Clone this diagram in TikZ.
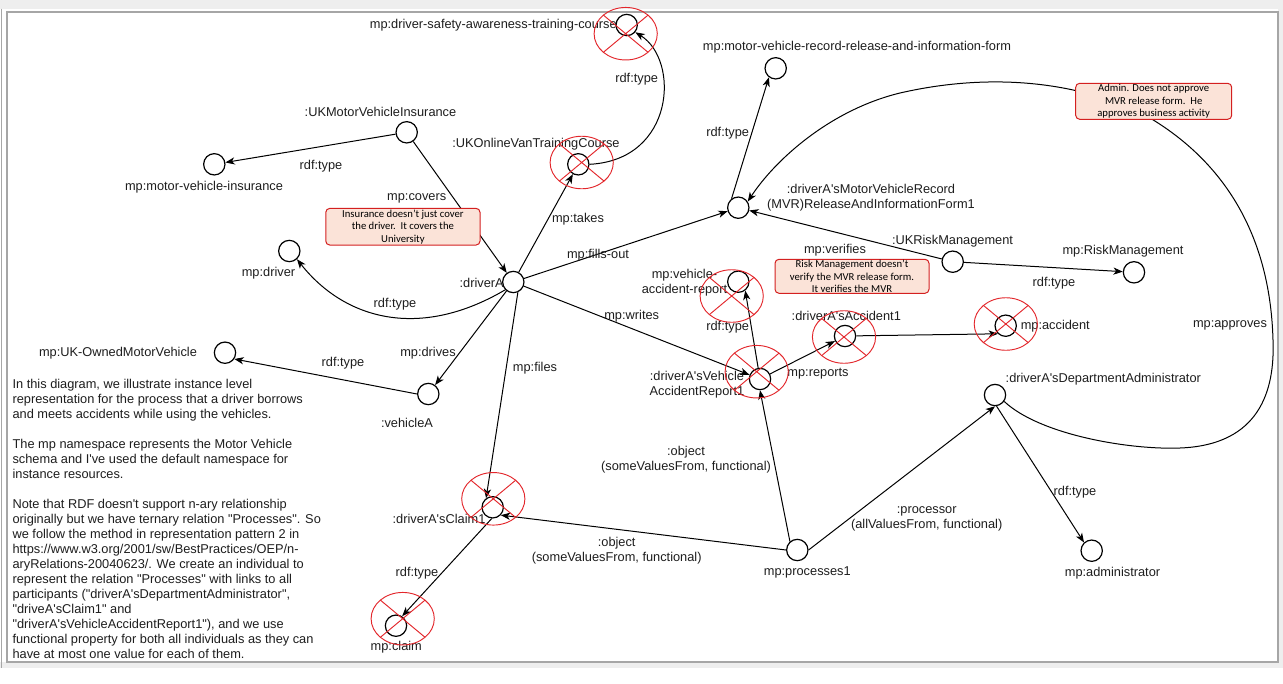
\documentclass[tikz,border=0pt]{standalone}
\usepackage{fontspec}
\usetikzlibrary{arrows.meta,shapes.geometric}
\newfontfamily\arialf{Liberation Sans}
\newfontfamily\calf{Carlito}
\definecolor{txtc}{HTML}{1E1E1E}
\definecolor{xred}{HTML}{E3262B}
\definecolor{notered}{HTML}{D42020}
\definecolor{notefill}{HTML}{FBE3D8}
\definecolor{bandgray}{HTML}{EEEEEE}
\definecolor{framegray}{HTML}{A6A6A6}
\begin{document}
\begin{tikzpicture}[x=0.75pt,y=-0.75pt,
  circ/.style={circle,draw=black,line width=0.9pt,fill=white,minimum size=16pt,inner sep=0pt},
  lbl/.style={font=\arialf\fontsize{9.6pt}{11.25pt}\selectfont,inner sep=0pt,text=txtc,align=center},
  arr/.style={-{Stealth[length=7pt,width=5.4pt,inset=2pt]},line width=0.75pt,draw=black},
  note/.style={rectangle,rounded corners=3pt,draw=notered,fill=notefill,line width=0.75pt,font=\calf\fontsize{8pt}{9.4pt}\selectfont,align=center,inner sep=0pt,text=black},
  redline/.style={draw=xred,line width=0.7pt},
]
\useasboundingbox (0,0) rectangle (1283,683);
% background and frame
\fill[white] (0,0) rectangle (1283,683);
\fill[bandgray] (0,0) rectangle (1283,8.5);
\fill[bandgray] (1278,0) rectangle (1283,668);
\fill[bandgray] (0,662) rectangle (1283,668);
\draw[bandgray!70!black,line width=0.75pt] (1.5,8.5) -- (1.5,668);
\draw[framegray,line width=1.1pt] (7,12) rectangle (1278,662);

% circles
\node[circ] (dsatc) at (626.7,25) {};
\node[circ] (mvrf) at (775.7,68.3) {};
\node[circ] (ukmvi) at (406.7,132.3) {};
\node[circ] (mvi) at (214.3,164.3) {};
\node[circ] (ukvan) at (578.3,164.3) {};
\node[circ] (drA) at (513.3,282) {};
\node[circ] (drv) at (289.3,251) {};
\node[circ] (form) at (738.3,207.7) {};
\node[circ] (ukrm) at (952.7,261.7) {};
\node[circ] (rm) at (1134,272.3) {};
\node[circ] (var) at (738.3,281.7) {};
\node[circ] (var1) at (760,379) {};
\node[circ] (acc1) at (845,336) {};
\node[circ] (acc) at (1005.7,325.7) {};
\node[circ] (dadm) at (995,395) {};
\node[circ] (adm) at (1091.7,550.7) {};
\node[circ] (ukomv) at (225,352.7) {};
\node[circ] (vehA) at (428.3,394) {};
\node[circ] (claim1) at (492.7,507.3) {};
\node[circ] (proc) at (797.3,550) {};
\node[circ] (claim) at (396,625.7) {};

% connectors
\draw[arr] (ukmvi) -- (mvi);
\draw[arr] (ukvan.east) .. controls (675,160) and (680,60) .. (dsatc.-40);
\draw[arr] (ukmvi) -- (drA);
\draw[arr] (drA) -- (ukvan);
\draw[arr] (drA.-136) .. controls (420,340) and (345,320) .. (drv.-47);
\draw[arr] (drA) -- (form);
\draw[arr] (form.127) -- (mvrf.-127);
\draw[arr] (ukrm) -- (form);
\draw[arr] (ukrm) -- (rm);
\draw[arr] (drA) -- (var1);
\draw[arr] (var1) -- (var.-52);
\draw[arr] (var1) -- (acc1);
\draw[arr] (acc1) -- (acc.-134);
\draw[arr] (dadm.-82) -- (adm.133);
\draw[arr] (dadm.-35) .. controls (1040,435) and (1130,450) .. (1180,448)
   .. controls (1260,445) and (1275,390) .. (1273,340)
   .. controls (1270,230) and (1220,160) .. (1150,118)
   .. controls (1090,85) and (1000,70) .. (900,93)
   .. controls (830,110) and (775,160) .. (form.33);
\draw[arr] (drA) -- (vehA);
\draw[arr] (vehA.west) -- (ukomv.-34);
\draw[arr] (drA.-66) -- (claim1.126);
\draw[arr] (proc.west) -- (claim1.-44);
\draw[arr] (proc.131) -- (var1.-90);
\draw[arr] (proc.east) -- (dadm.-90);
\draw[arr] (claim1.-95) -- (claim.57);

% notes
\node[note,minimum width=115.7pt,minimum height=27.5pt] (n1) at (402.9,226.7) {Insurance doesn’t just cover\\the driver.\ \ It covers the\\University};
\node[note,minimum width=115.5pt,minimum height=25.5pt] (n2) at (852,276.3) {Risk Management doesn’t\\verify the MVR release form.\\It verifies the MVR};
\node[note,minimum width=117pt,minimum height=27pt] (n3) at (1153.7,101.3) {Admin. Does not approve\\MVR release form.\ \ He\\approves business activity};

% node labels
\node[lbl,anchor=east] (l-dsatc) at (617,25) {mp:driver-safety-awareness-training-course};
\node[lbl] (l-mvrf) at (857,47.5) {mp:motor-vehicle-record-release-and-information-form};
\node[lbl] (l-ukmvi) at (380.5,112) {:UKMotorVehicleInsurance};
\node[lbl] (l-mvi) at (204,187) {mp:motor-vehicle-insurance};
\node[lbl] (l-ukvan) at (536,144) {:UKOnlineVanTrainingCourse};
\node[lbl,anchor=east] (l-drA) at (504,283) {:driverA};
\node[lbl] (l-drv) at (268.5,272.7) {mp:driver};
\node[lbl] (l-form) at (871,197.5) {:driverA'sMotorVehicleRecord\\(MVR)ReleaseAndInformationForm1};
\node[lbl] (l-ukrm) at (952.5,240.7) {:UKRiskManagement};
\node[lbl] (l-rm) at (1123,251) {mp:RiskManagement};
\node[lbl] (l-var) at (684.5,283) {mp:vehicle-\\accident-report};
\node[lbl] (l-var1) at (697,384.3) {:driverA'sVehicle\\AccidentReport1};
\node[lbl] (l-acc1) at (846.3,316) {:driverA'sAccident1};
\node[lbl,anchor=west] (l-acc) at (1020.5,325.7) {mp:accident};
\node[lbl] (l-dadm) at (1103.3,379.3) {:driverA'sDepartmentAdministrator};
\node[lbl] (l-adm) at (1112.5,572.7) {mp:administrator};
\node[lbl] (l-ukomv) at (118,353) {mp:UK-OwnedMotorVehicle};
\node[lbl] (l-vehA) at (407,422.7) {:vehicleA};
\node[lbl] (l-claim1) at (439,519) {:driverA'sClaim1};
\node[lbl] (l-proc) at (807.3,572.7) {mp:processes1};
\node[lbl] (l-claim) at (396.3,647.3) {mp:claim};

% connector labels
\node[lbl] (e1) at (321,166) {rdf:type};
\node[lbl] (e2) at (636.7,79.3) {rdf:type};
\node[lbl] (e3) at (416.7,198) {mp:covers};
\node[lbl] (e4) at (578,219) {mp:takes};
\node[lbl] (e5) at (395,304) {rdf:type};
\node[lbl] (e6) at (598,255) {mp:fills-out};
\node[lbl] (e7) at (727.7,132.7) {rdf:type};
\node[lbl] (e8) at (835,250) {mp:verifies};
\node[lbl] (e9) at (1054,282.7) {rdf:type};
\node[lbl] (e10) at (631.7,316) {mp:writes};
\node[lbl] (e11) at (727.7,326.7) {rdf:type};
\node[lbl] (e12) at (818,374) {mp:reports};
\node[lbl] (e13) at (1075,492) {rdf:type};
\node[lbl] (e14) at (1230,325.7) {mp:approves};
\node[lbl] (e15) at (428,353) {mp:drives};
\node[lbl] (e16) at (343,363) {rdf:type};
\node[lbl] (e17) at (535,368) {mp:files};
\node[lbl] (e18) at (616.7,550.8) {:object\\(someValuesFrom, functional)};
\node[lbl] (e19) at (686,459.5) {:object\\(someValuesFrom, functional)};
\node[lbl] (e20) at (926.7,519.2) {:processor\\(allValuesFrom, functional)};
\node[lbl] (e21) at (417,573) {rdf:type};

% description
\node[lbl,align=left,anchor=north west] (desc) at (12.3,379.3) {In this diagram, we illustrate instance level\\
representation for the process that a driver borrows\\
and meets accidents while using the vehicles.\\[11.25pt]
The mp namespace represents the Motor Vehicle\\
schema and I've used the default namespace for\\
instance resources.\\[11.25pt]
Note that RDF doesn't support n-ary relationship\\
originally but we have ternary relation "Processes". So\\
we follow the method in representation pattern 2 in\\
https://www.w3.org/2001/sw/BestPractices/OEP/n-\\
aryRelations-20040623/. We create an individual to\\
represent the relation "Processes" with links to all\\
participants ("driverA'sDepartmentAdministrator",\\
"driveA'sClaim1" and\\
"driverA'sVehicleAccidentReport1"), and we use\\
functional property for both all individuals as they can\\
have at most one value for each of them.};

% red crossed ellipses
\foreach \cx/\cy in {625.7/33.7, 581.7/162.5, 731.7/296, 756.7/371.7, 844/337, 1005.8/324, 493.3/498.8, 402.7/618.7}{
  \draw[redline] (\cx,\cy) ellipse [x radius=23.7pt, y radius=19.7pt];
  \draw[redline] (\cx-22.35,\cy-18.6) -- (\cx+22.35,\cy+18.6) (\cx+22.35,\cy-18.6) -- (\cx-22.35,\cy+18.6);
}
\end{tikzpicture}
\end{document}
